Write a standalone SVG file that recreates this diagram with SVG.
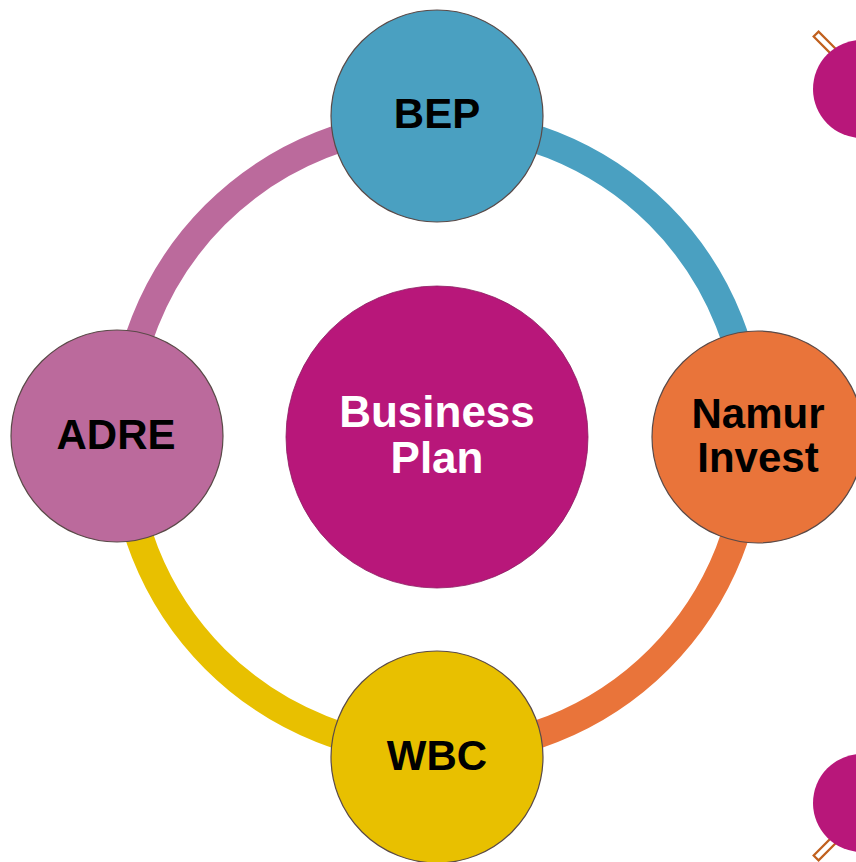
<svg xmlns="http://www.w3.org/2000/svg" width="856" height="862" viewBox="0 0 856 862">
<style>
.ring{fill:none;stroke-width:28}
.node{stroke:#5a4a48;stroke-width:1.2}
.lbl{font-family:"Liberation Sans",Arial,sans-serif;font-weight:bold;font-size:42px;text-anchor:middle;fill:#000}
.ctr{font-family:"Liberation Sans",Arial,sans-serif;font-weight:bold;font-size:44px;text-anchor:middle;fill:#fff}
.pin{fill:#fff;stroke:#c0601e;stroke-width:2.2}
</style>
<rect width="856" height="862" fill="#fff"/>
<g id="connectors">
<path class="ring" stroke="#bb6a9c" d="M123,437 A314,314 0 0 1 437,123"/>
<path class="ring" stroke="#4aa0c1" d="M437,123 A314,314 0 0 1 751,437"/>
<path class="ring" stroke="#e9743a" d="M751,437 A314,314 0 0 1 437,751"/>
<path class="ring" stroke="#e8c000" d="M437,751 A314,314 0 0 1 123,437"/>
</g>
<g id="deco-top">
<rect class="pin" x="-3.5" y="-14" width="7" height="28" transform="translate(826,44) rotate(-45)"/>
<circle cx="862" cy="89" r="49" fill="#b8177a"/>
</g>
<g id="deco-bottom">
<rect class="pin" x="-3.5" y="-14" width="7" height="28" transform="translate(826,848) rotate(45)"/>
<circle cx="862" cy="803" r="49" fill="#b8177a"/>
</g>
<g id="bep">
<circle class="node" cx="437" cy="116" r="106" fill="#4aa0c1"/>
<text class="lbl" x="437" y="128">BEP</text>
</g>
<g id="namur">
<circle class="node" cx="758" cy="437" r="106" fill="#e9743a"/>
<text class="lbl" x="758" y="428">Namur</text>
<text class="lbl" x="758" y="472">Invest</text>
</g>
<g id="wbc">
<circle class="node" cx="437" cy="757" r="106" fill="#e8c000"/>
<text class="lbl" x="437" y="770">WBC</text>
</g>
<g id="adre">
<circle class="node" cx="117" cy="436" r="106" fill="#bb6a9c"/>
<text class="lbl" x="116" y="449">ADRE</text>
</g>
<g id="business-plan">
<circle cx="437" cy="437" r="151" fill="#b8177a" stroke="#8a1a60" stroke-width="0.8"/>
<text class="ctr" x="437" y="427">Business</text>
<text class="ctr" x="437" y="473">Plan</text>
</g>
</svg>
